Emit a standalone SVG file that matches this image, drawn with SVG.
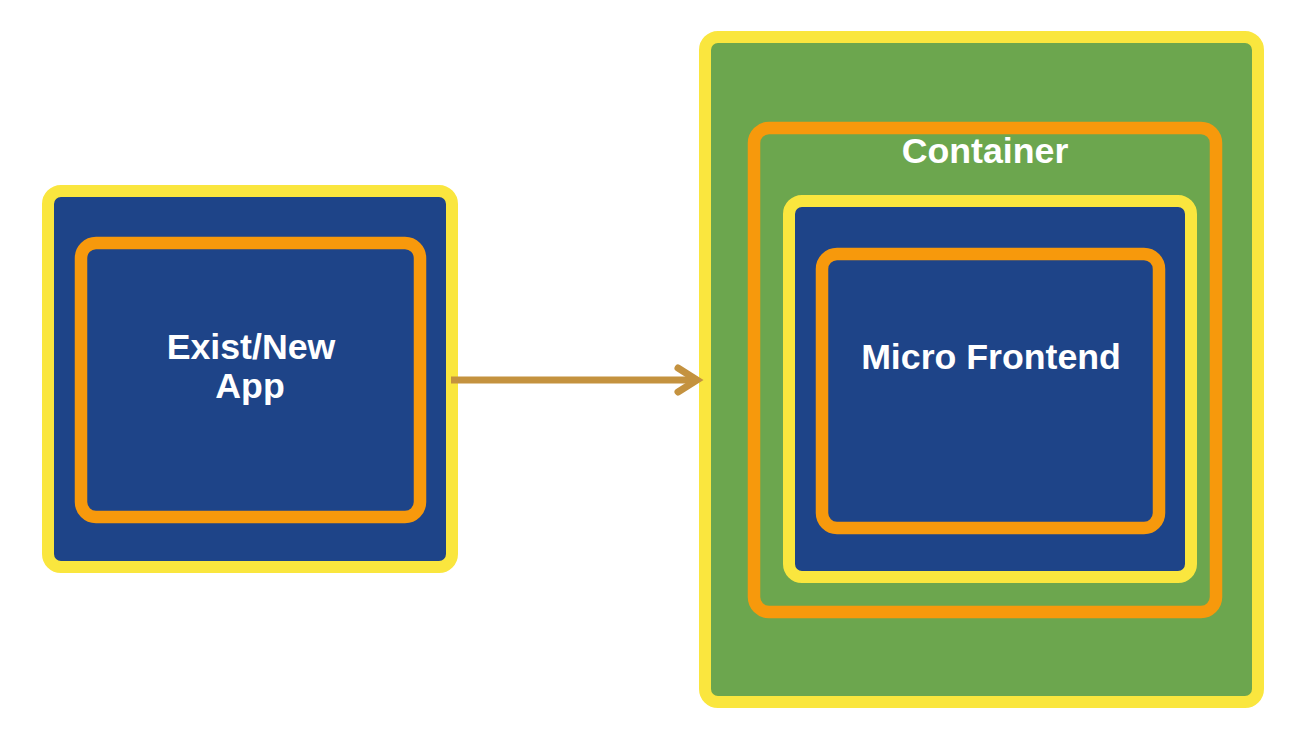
<svg xmlns="http://www.w3.org/2000/svg" width="1296" height="744" viewBox="0 0 1296 744">
<style>
.yel{stroke:#FAE63E;stroke-width:12}
.org{stroke:#F7990C;stroke-width:12.5}
.blue{fill:#1E4488}
.green{fill:#6CA64E}
.lbl{font-family:"Liberation Sans",Arial,sans-serif;font-weight:bold;font-size:35.7px;fill:#FFFFFF;text-anchor:middle}
.conn{stroke:#C4923F;stroke-width:7;fill:none}
</style>
<rect width="1296" height="744" fill="#FFFFFF"/>
<g id="app">
<rect x="48" y="191" width="404" height="376" rx="13" class="blue yel"/>
<rect x="81" y="243" width="339" height="274" rx="15" class="blue org"/>
<text x="251" y="359" class="lbl">Exist/New</text>
<text x="250" y="398" class="lbl">App</text>
</g>
<g id="container">
<rect x="705" y="37" width="553" height="665" rx="13" class="green yel"/>
<rect x="754" y="128" width="462" height="484" rx="15" class="green org"/>
<text x="985" y="163" class="lbl">Container</text>
</g>
<g id="microfrontend">
<rect x="789" y="201" width="402" height="376" rx="13" class="blue yel"/>
<rect x="822" y="254" width="337" height="274" rx="15" class="blue org"/>
<text x="991" y="369" class="lbl">Micro Frontend</text>
</g>
<g id="connectors">
<line x1="451" y1="380" x2="697" y2="380" class="conn"/>
<polyline points="678,368 697,380 678,392" class="conn" stroke-linecap="round" stroke-linejoin="miter"/>
</g>
</svg>
